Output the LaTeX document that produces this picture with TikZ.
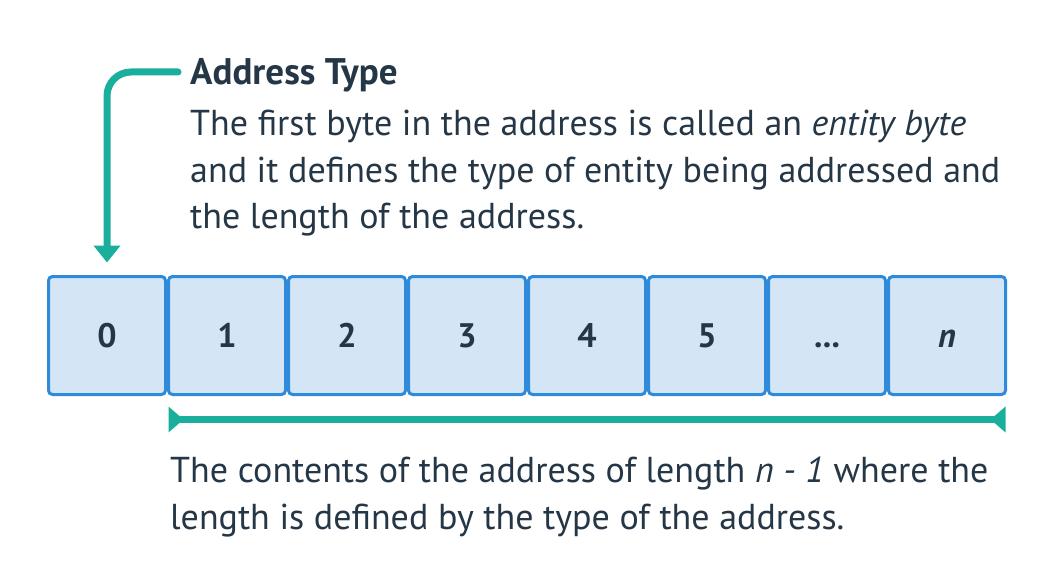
\documentclass[tikz,border=0pt]{standalone}
\usepackage{fontspec}
\setmainfont{PT Sans}
\usepackage{tikz}
\usetikzlibrary{positioning,arrows.meta}
\definecolor{inkdark}{HTML}{253746}
\definecolor{tealline}{HTML}{1AAF9C}
\definecolor{byteedge}{HTML}{2E8BDB}
\definecolor{bytefill}{HTML}{D4E6F6}

\begin{document}
\begin{tikzpicture}[%
    x=1pt,
    y=-1pt,
    node distance=3pt,
    bytebox/.style={%
      rectangle,
      rounded corners=4pt,
      draw=byteedge,
      fill=bytefill,
      line width=3pt,
      minimum width=117pt,
      minimum height=118pt,
      inner sep=0pt,
      outer sep=0pt,
      text height=24pt,
      text depth=0pt,
      text=inkdark,
      font=\fontsize{34}{34}\selectfont\bfseries
    },
    note/.style={%
      inner sep=0pt,
      text=inkdark,
      align=left,
      font=\fontsize{36}{46.5}\selectfont
    },
    pointer/.style={%
      draw=tealline,
      line width=7pt
    }
  ]
    \useasboundingbox (0,0) rectangle (1064,588);

    \node[bytebox] (b0) at (107,335.5) {0};
    \node[bytebox] (b1) [right=of b0] {1};
    \node[bytebox] (b2) [right=of b1] {2};
    \node[bytebox] (b3) [right=of b2] {3};
    \node[bytebox] (b4) [right=of b3] {4};
    \node[bytebox] (b5) [right=of b4] {5};
    \node[bytebox] (b6) [right=of b5] {...};
    \node[bytebox] (b7) [right=of b6] {\itshape n};

    \node[note, anchor=base west, font=\fontsize{37}{47}\selectfont\bfseries] (title) at (190,85) {Address Type};
    \node[note] (about) [below right=25pt and 0pt of title.base west] {The first byte in the address is called an \textit{entity byte}\\and it defines the type of entity being addressed and\\the length of the address.};
    \node[note, anchor=north west] (span) at (170,457) {The contents of the address of length \textit{n - 1} where the\\length is defined by the type of the address.};

    \coordinate (tail) at (178,72);
    \draw[pointer, line cap=round, rounded corners=24pt, -{Triangle[length=17pt,width=26pt]}]
      (tail) -| ([yshift=14pt]b0.north);
    \draw[pointer, {Triangle[reversed,length=15pt,width=25pt]}-{Triangle[reversed,length=15pt,width=25pt]}]
      ([yshift=-25pt]b1.south west) -- ([yshift=-25pt]b7.south east);
\end{tikzpicture}
\end{document}
